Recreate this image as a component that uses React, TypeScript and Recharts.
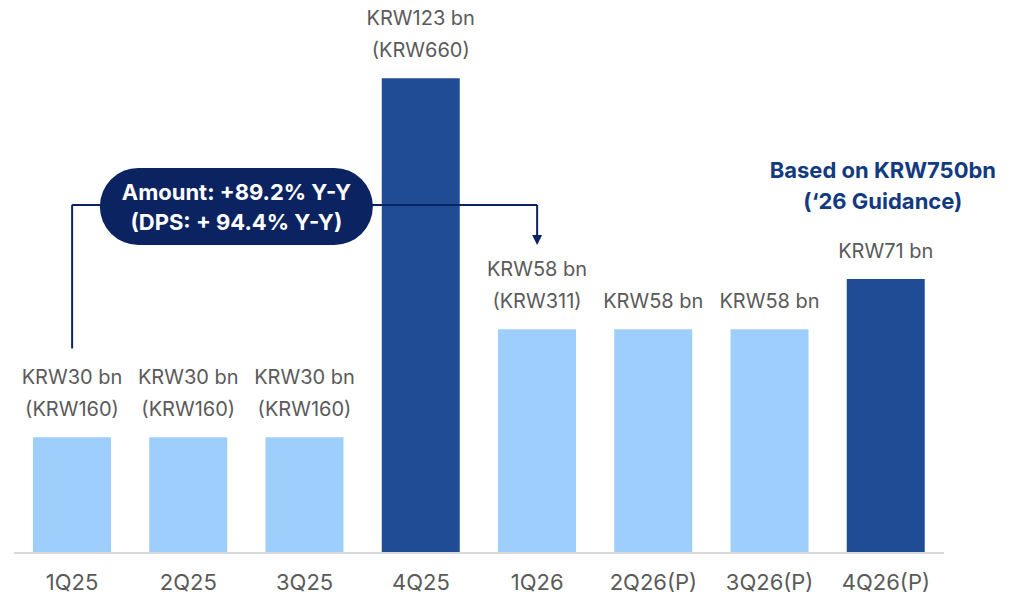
import React from 'react'
import { BarChart, Bar, XAxis, YAxis, Cell, LabelList, ReferenceLine, ReferenceDot } from 'recharts'

const quarters = ['1Q25', '2Q25', '3Q25', '4Q25', '1Q26', '2Q26(P)', '3Q26(P)', '4Q26(P)']
const amounts = [30, 30, 30, 123, 58, 58, 58, 71]
const amountLabels = ['KRW30 bn', 'KRW30 bn', 'KRW30 bn', 'KRW123 bn', 'KRW58 bn', 'KRW58 bn', 'KRW58 bn', 'KRW71 bn']
const dpsLabels = ['(KRW160)', '(KRW160)', '(KRW160)', '(KRW660)', '(KRW311)', '', '', '']
const highlight = [false, false, false, true, false, false, false, true]

const growthText = ['Amount: +89.2% Y-Y', '(DPS: + 94.4% Y-Y)']
const guidanceText = ['Based on KRW750bn', '(\u201826 Guidance)']

const LIGHT = '#9ecffc'
const DARK = '#1f4c95'
const NAVY = '#0b2461'
const GREY = '#5a5a5a'
const FONT = 'Inter, "Noto Sans", sans-serif'

const data = quarters.map((q, i) => ({
  q,
  amount: amounts[i],
  l1: amountLabels[i],
  l2: dpsLabels[i],
  hi: highlight[i],
}))

// connector levels (in data units)
const lineLow = 53
const lineHigh = 90.2
const arrowStop = 82.3
const arrowTip = 79.8

const BarLabel = (props: any) => {
  const { x, y, width, index } = props
  const d = data[index]
  const lines = [d.l1, d.l2].filter(Boolean)
  const cx = x + width / 2
  return (
    <g>
      {lines.map((t, i) => (
        <text
          key={i}
          x={cx}
          y={y - 28 - (lines.length - 1 - i) * 32}
          textAnchor="middle"
          dominantBaseline="central"
          fill={GREY}
          fontSize={20}
          fontFamily={FONT}
        >
          {t}
        </text>
      ))}
    </g>
  )
}

const QuarterTick = (props: any) => {
  const { x, y, payload } = props
  return (
    <text x={x} y={y + 21} textAnchor="middle" dominantBaseline="central" fill={GREY} fontSize={22} fontFamily={FONT}>
      {payload.value}
    </text>
  )
}

const Arrow = (props: any) => {
  const { cx, cy } = props
  return <path d={`M${cx - 5},${cy - 10} L${cx + 5},${cy - 10} L${cx},${cy} Z`} fill={NAVY} />
}

const Pill = (props: any) => {
  const { cx, cy } = props
  const w = 273
  const h = 77
  const px = cx + 48
  return (
    <g>
      <rect x={px - w / 2} y={cy - h / 2} width={w} height={h} rx={h / 2} fill={NAVY} />
      {growthText.map((t, i) => (
        <text
          key={i}
          x={px}
          y={cy - 14 + i * 30}
          textAnchor="middle"
          dominantBaseline="central"
          fill="#ffffff"
          fontSize={22}
          fontWeight={700}
          fontFamily={FONT}
        >
          {t}
        </text>
      ))}
    </g>
  )
}

const Guidance = (props: any) => {
  const { cx, cy } = props
  return (
    <g>
      {guidanceText.map((t, i) => (
        <text
          key={i}
          x={cx - 3}
          y={cy + i * 31}
          textAnchor="middle"
          dominantBaseline="central"
          fill="#123a80"
          fontSize={22}
          fontWeight={700}
          fontFamily={FONT}
        >
          {t}
        </text>
      ))}
    </g>
  )
}

export default function App() {
  return (
    <div style={{ position: 'absolute', left: 0, top: 0, width: 1020, height: 595, background: '#fff' }}>
      <BarChart width={1020} height={595} data={data} margin={{ top: 32, right: 76, bottom: 0, left: 14 }} barSize={78}>
        <XAxis
          dataKey="q"
          height={42}
          tickLine={false}
          axisLine={{ stroke: '#d9d9d9', strokeWidth: 2 }}
          tick={<QuarterTick />}
          interval={0}
        />
        <YAxis hide domain={[0, 135]} />
        <ReferenceLine segment={[{ x: '1Q25', y: lineLow }, { x: '1Q25', y: lineHigh }]} stroke={NAVY} strokeWidth={2} />
        <ReferenceLine segment={[{ x: '1Q25', y: lineHigh }, { x: '1Q26', y: lineHigh }]} stroke={NAVY} strokeWidth={2} />
        <ReferenceLine segment={[{ x: '1Q26', y: lineHigh }, { x: '1Q26', y: arrowStop }]} stroke={NAVY} strokeWidth={2} />
        <Bar dataKey="amount" isAnimationActive={false}>
          {data.map((d, i) => (
            <Cell key={i} fill={d.hi ? DARK : LIGHT} />
          ))}
          <LabelList dataKey="amount" content={<BarLabel />} />
        </Bar>
        <ReferenceDot x="1Q26" y={arrowTip} r={0} shape={<Arrow />} />
        <ReferenceDot x="2Q25" y={89.8} r={0} shape={<Pill />} />
        <ReferenceDot x="4Q26(P)" y={99.3} r={0} shape={<Guidance />} />
      </BarChart>
    </div>
  )
}
